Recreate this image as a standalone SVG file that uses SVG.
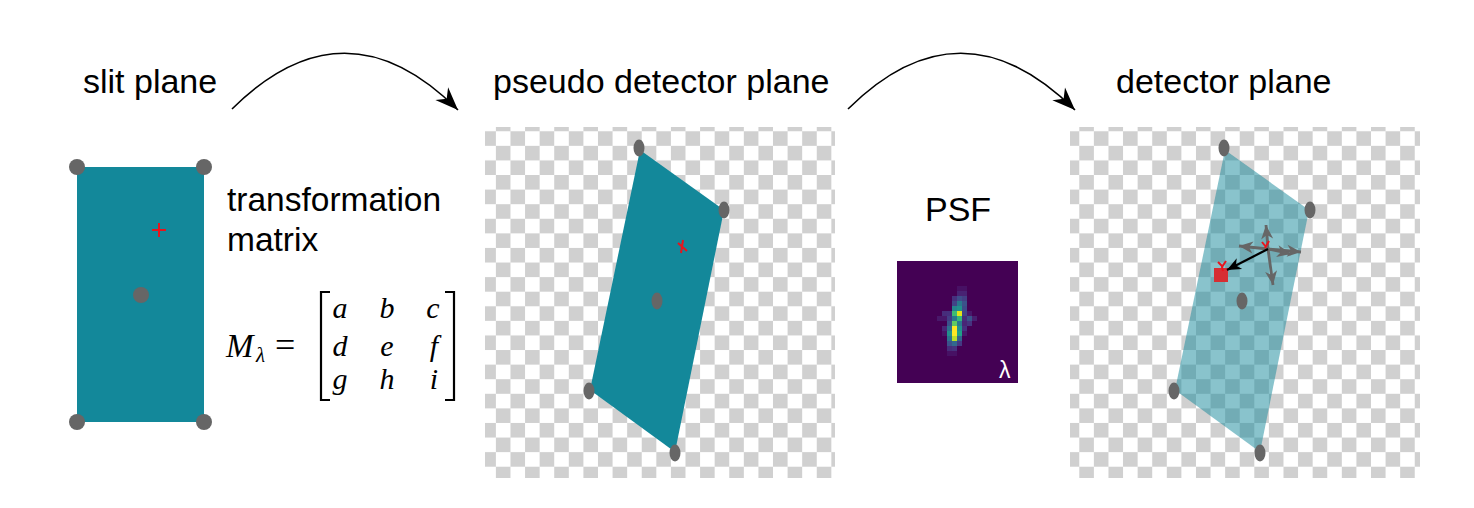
<svg xmlns="http://www.w3.org/2000/svg" width="1474" height="508" viewBox="0 0 1474 508">
<style>
.t{font-family:"Liberation Sans",Arial,sans-serif;font-size:34px;fill:#000}
.m{font-family:"Liberation Serif","DejaVu Serif",serif;font-style:italic;font-size:30px;fill:#000}
.dot{fill:#666666}
.red{stroke:#e8141c;stroke-width:2;fill:none}
.ga{stroke:#666666;stroke-width:2.8;fill:none;marker-end:url(#gh)}
.arc{stroke:#000;stroke-width:1.6;fill:none;marker-end:url(#ah)}
</style>
<defs>
<pattern id="chk" x="0" y="0" width="29.17" height="29.17" patternUnits="userSpaceOnUse">
<rect width="29.17" height="29.17" fill="#ffffff"/>
<rect width="14.583" height="14.583" fill="#d0d0d0"/>
<rect x="14.583" y="14.583" width="14.583" height="14.583" fill="#d0d0d0"/>
</pattern>
<marker id="ah" viewBox="-24 -10 26 20" refX="0" refY="0" markerWidth="26" markerHeight="20" markerUnits="userSpaceOnUse" orient="auto">
<path d="M0,0 L-23,-9 L-16,0 L-23,9 Z" fill="#000"/>
</marker>
<marker id="gh" viewBox="-15 -7 16 14" refX="0" refY="0" markerWidth="16" markerHeight="14" markerUnits="userSpaceOnUse" orient="auto">
<path d="M0,0 L-14,-6 L-10,0 L-14,6 Z" fill="#666666"/>
</marker>
<marker id="bh" viewBox="-15 -7 16 14" refX="0" refY="0" markerWidth="16" markerHeight="14" markerUnits="userSpaceOnUse" orient="auto">
<path d="M0,0 L-14,-6 L-10,0 L-14,6 Z" fill="#000"/>
</marker>
</defs>
<rect width="1474" height="508" fill="#ffffff"/>

<g id="labels">
<text class="t" x="83" y="93">slit plane</text>
<text class="t" x="493" y="93">pseudo detector plane</text>
<text class="t" x="1116" y="93">detector plane</text>
<text class="t" x="925" y="221">PSF</text>
<text class="t" x="227" y="211" style="font-size:33.5px">transformation</text>
<text class="t" x="227" y="251" style="font-size:33.5px">matrix</text>
</g>

<g id="connectors">
<path class="arc" d="M232,109 Q345,-3 458,110"/>
<path class="arc" d="M848,109 Q961,-3 1075,110"/>
</g>

<g id="slit-plane">
<rect x="77" y="167" width="127" height="255" fill="#13889a"/>
<circle class="dot" cx="77" cy="167" r="8"/>
<circle class="dot" cx="204" cy="167" r="8"/>
<circle class="dot" cx="77" cy="422" r="8"/>
<circle class="dot" cx="204" cy="422" r="8"/>
<circle class="dot" cx="141" cy="295" r="8"/>
<path class="red" d="M152,230 H166 M159,223 V237"/>
</g>

<g id="matrix">
<text class="m" x="226" y="357" style="font-size:33px">M</text>
<text class="m" x="256" y="362" style="font-size:21px">λ</text>
<text x="275" y="357" style="font-family:'Liberation Serif',serif;font-size:36px">=</text>
<path d="M330,292 H321 V400 H330" stroke="#000" stroke-width="2.2" fill="none"/>
<path d="M445,292 H454 V400 H445" stroke="#000" stroke-width="2.2" fill="none"/>
<g class="m" text-anchor="middle">
<text x="340" y="318">a</text><text x="387" y="318">b</text><text x="433" y="318">c</text>
<text x="340" y="356">d</text><text x="387" y="356">e</text><text x="434" y="356">f</text>
<text x="340" y="389">g</text><text x="387" y="389">h</text><text x="434" y="389">i</text>
</g>
</g>

<g id="pseudo-detector-plane">
<rect x="485" y="127" width="350" height="351" fill="url(#chk)"/>
<polygon points="640,150 724,210 675,452 590,390" fill="#13889a"/>
<ellipse class="dot" cx="639" cy="148" rx="5.5" ry="8.5"/>
<ellipse class="dot" cx="724" cy="210" rx="5.5" ry="8.5"/>
<ellipse class="dot" cx="589" cy="391" rx="5.5" ry="8.5"/>
<ellipse class="dot" cx="675" cy="453" rx="5.5" ry="8.5"/>
<ellipse class="dot" cx="657" cy="301" rx="5.5" ry="8.5"/>
<path class="red" d="M678,243 L687,251 M683,240 L681,253"/>
</g>

<g id="psf">
<rect x="897" y="261" width="121" height="122" fill="#440154"/>
<g transform="translate(897,261) scale(5)">
<rect x="12" y="5" width="2" height="1" fill="#471164"/>
<rect x="12" y="6" width="2" height="1" fill="#482273"/>
<rect x="11" y="7" width="1" height="1" fill="#46307e"/>
<rect x="12" y="7" width="1" height="1" fill="#3e4c8a"/>
<rect x="13" y="7" width="1" height="1" fill="#433e85"/>
<rect x="11" y="8" width="1" height="1" fill="#414487"/>
<rect x="12" y="8" width="1" height="1" fill="#2a788e"/>
<rect x="13" y="8" width="1" height="1" fill="#3b528b"/>
<rect x="11" y="9" width="1" height="1" fill="#25848e"/>
<rect x="12" y="9" width="1" height="1" fill="#21918c"/>
<rect x="13" y="9" width="1" height="1" fill="#3e4a89"/>
<rect x="9" y="10" width="1" height="1" fill="#472d7b"/>
<rect x="10" y="10" width="1" height="1" fill="#46307e"/>
<rect x="11" y="10" width="1" height="1" fill="#3dbc74"/>
<rect x="12" y="10" width="1" height="1" fill="#e5e419"/>
<rect x="13" y="10" width="1" height="1" fill="#414487"/>
<rect x="14" y="10" width="1" height="1" fill="#48186a"/>
<rect x="11" y="11" width="1" height="1" fill="#2a788e"/>
<rect x="12" y="11" width="1" height="1" fill="#35b779"/>
<rect x="13" y="11" width="1" height="1" fill="#472d7b"/>
<rect x="14" y="11" width="1" height="1" fill="#3b528b"/>
<rect x="15" y="11" width="1" height="1" fill="#481f70"/>
<rect x="8" y="11" width="2" height="1" fill="#48186a"/>
<rect x="10" y="11" width="1" height="1" fill="#433e85"/>
<rect x="10" y="12" width="1" height="1" fill="#3b528b"/>
<rect x="11" y="12" width="1" height="1" fill="#5ec962"/>
<rect x="12" y="12" width="1" height="1" fill="#2a788e"/>
<rect x="13" y="12" width="1" height="1" fill="#482576"/>
<rect x="14" y="12" width="1" height="1" fill="#46337f"/>
<rect x="9" y="13" width="1" height="1" fill="#482576"/>
<rect x="10" y="13" width="1" height="1" fill="#2c728e"/>
<rect x="11" y="13" width="1" height="1" fill="#fde725"/>
<rect x="12" y="13" width="1" height="1" fill="#21918c"/>
<rect x="13" y="13" width="1" height="1" fill="#46307e"/>
<rect x="9" y="14" width="1" height="1" fill="#471365"/>
<rect x="10" y="14" width="1" height="1" fill="#21918c"/>
<rect x="11" y="14" width="1" height="1" fill="#fde725"/>
<rect x="12" y="14" width="1" height="1" fill="#1fa187"/>
<rect x="13" y="14" width="1" height="1" fill="#48186a"/>
<rect x="10" y="15" width="1" height="1" fill="#2c728e"/>
<rect x="11" y="15" width="1" height="1" fill="#b8de29"/>
<rect x="12" y="15" width="1" height="1" fill="#33638d"/>
<rect x="10" y="16" width="1" height="1" fill="#3b528b"/>
<rect x="11" y="16" width="1" height="1" fill="#31688e"/>
<rect x="12" y="16" width="1" height="1" fill="#443983"/>
<rect x="10" y="17" width="1" height="1" fill="#472c7a"/>
<rect x="11" y="17" width="1" height="1" fill="#46327e"/>
<rect x="10" y="18" width="2" height="1" fill="#471164"/>
</g>
<text x="999" y="378" style="font-family:'Liberation Sans',sans-serif;font-size:23px;fill:#ffffff">λ</text>
</g>

<g id="detector-plane">
<rect x="1070" y="127" width="350" height="351" fill="url(#chk)"/>
<polygon points="1225,150 1309,210 1260,452 1175,390" fill="#13889a" fill-opacity="0.5"/>
<ellipse class="dot" cx="1224" cy="148" rx="5.5" ry="8.5"/>
<ellipse class="dot" cx="1310" cy="210" rx="5.5" ry="8.5"/>
<ellipse class="dot" cx="1174" cy="391" rx="5.5" ry="8.5"/>
<ellipse class="dot" cx="1260" cy="453" rx="5.5" ry="8.5"/>
<ellipse class="dot" cx="1242" cy="301" rx="5.5" ry="8.5"/>
<rect x="1214" y="268" width="14" height="14" fill="#d62e33"/>
<path class="ga" d="M1268,249 L1266,225"/>
<path class="ga" d="M1268,249 L1273,285"/>
<path class="ga" d="M1268,249 L1239,246"/>
<path class="ga" d="M1268,249 L1301,252"/>
<path class="ga" d="M1268,249 L1291,254"/>
<path d="M1268,249 L1227,270" stroke="#000" stroke-width="2.2" fill="none" marker-end="url(#bh)"/>
<path class="red" d="M1262,242 L1266,247 M1269,241 L1265,248"/>
<path class="red" d="M1218,262 L1222,266 M1226,261 L1222,267 L1223,271"/>
</g>
</svg>
